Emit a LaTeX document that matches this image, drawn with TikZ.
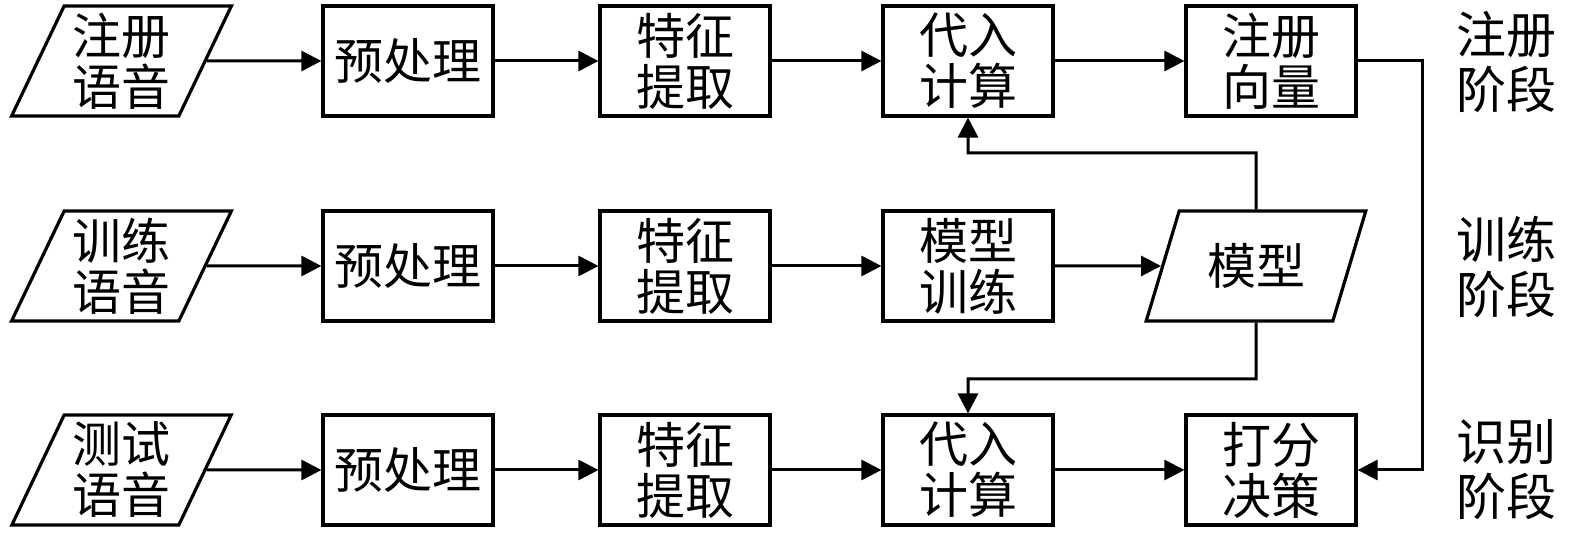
\documentclass[tikz,border=0pt]{standalone}
\usepackage{fontspec}
\newfontfamily\cjk{Noto Sans CJK SC}
\usetikzlibrary{shapes.geometric,arrows.meta}
\begin{document}
\begin{tikzpicture}[x=0.5pt,y=-0.5pt,
 txt/.style={font=\cjk\fontsize{24.5}{25.5}\selectfont,align=center},
 stage/.style={font=\cjk\fontsize{25}{27.5}\selectfont,align=center},
 box/.style={txt,draw,line width=1.6pt,minimum width=85pt,minimum height=55pt,inner sep=0pt},
 io/.style={txt,trapezium,trapezium left angle=65,trapezium right angle=115,trapezium stretches=true,draw,line width=1.6pt,minimum width=110.5pt,minimum height=55pt,inner sep=0pt},
 conn/.style={line width=1.5pt,-{Triangle[length=10pt,width=10pt]}},
 line join=miter]
\useasboundingbox (0,0) rectangle (1575,533);
% row 1
\node[io]  (in1)   at (121.5,61) {注册\\语音};
\node[box] (pre1)  at (408,61) {预处理};
\node[box] (feat1) at (685,61) {特征\\提取};
\node[box] (calc1) at (968,61) {代入\\计算};
\node[box] (vec)   at (1271,61) {注册\\向量};
\node[stage] (s1)  at (1506,62) {注册\\阶段};
% row 2
\node[io]  (in2)   at (121.5,266) {训练\\语音};
\node[box] (pre2)  at (408,266) {预处理};
\node[box] (feat2) at (685,266) {特征\\提取};
\node[box] (train) at (968,266) {模型\\训练};
\node[io]  (model) at (1256,266) {模型};
\node[stage] (s2)  at (1506,267) {训练\\阶段};
% row 3
\node[io]  (in3)   at (121.5,470) {测试\\语音};
\node[box] (pre3)  at (408,470) {预处理};
\node[box] (feat3) at (685,470) {特征\\提取};
\node[box] (calc3) at (968,470) {代入\\计算};
\node[box] (score) at (1271,470) {打分\\决策};
\node[stage] (s3)  at (1506,470) {识别\\阶段};
% junctions
\coordinate (t1) at (1256,153);
\coordinate (t2) at (1256,379);
\coordinate (r1) at (1422,61);
% connectors
\draw[conn] (in1) -- (pre1);
\draw[conn] (pre1) -- (feat1);
\draw[conn] (feat1) -- (calc1);
\draw[conn] (calc1) -- (vec);
\draw[conn] (in2) -- (pre2);
\draw[conn] (pre2) -- (feat2);
\draw[conn] (feat2) -- (train);
\draw[conn] (train) -- (model);
\draw[conn] (in3) -- (pre3);
\draw[conn] (pre3) -- (feat3);
\draw[conn] (feat3) -- (calc3);
\draw[conn] (calc3) -- (score);
\draw[conn] (model.north) -- (t1) -| (calc1.south);
\draw[conn] (model.south) -- (t2) -| (calc3.north);
\draw[conn] (vec.east) -- (r1) |- (score.east);
\end{tikzpicture}
\end{document}
